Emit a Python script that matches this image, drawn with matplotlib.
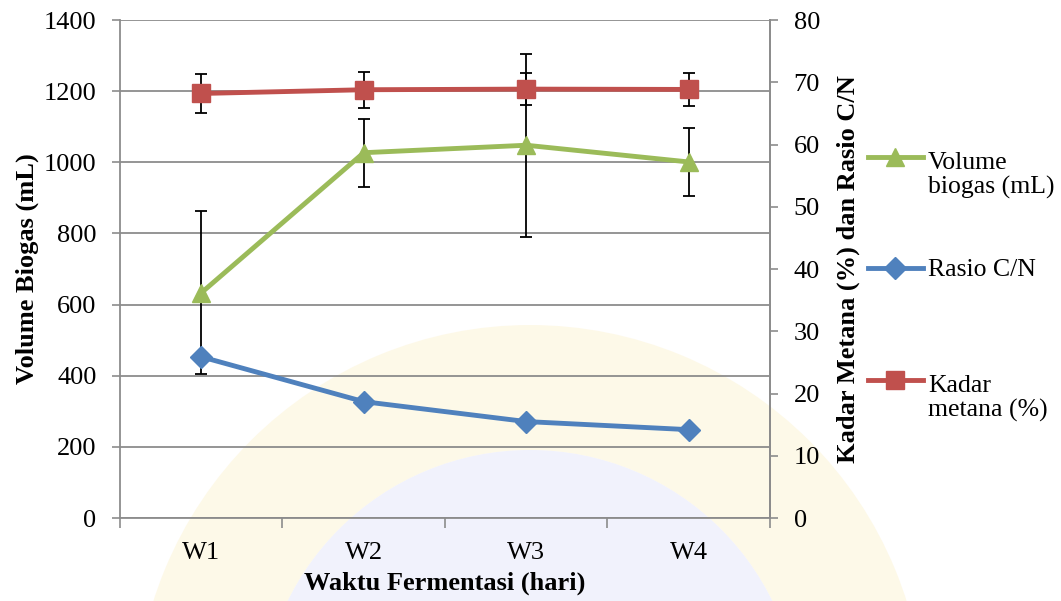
import numpy as np
import matplotlib
matplotlib.use("Agg")
import matplotlib.pyplot as plt
from matplotlib.lines import Line2D
from matplotlib.patches import Circle, Wedge

# Data
weeks = ["W1", "W2", "W3", "W4"]
volume_biogas = [633, 1027, 1048, 1001]      # mL (left axis)
volume_err = [229, 96, 257, 96]
rasio_cn = [25.9, 18.7, 15.5, 14.2]          # right axis
kadar_metana = [68.2, 68.8, 68.9, 68.85]     # % (right axis)
metana_err = [3.15, 2.9, 2.6, 2.65]

left_ticks = list(range(0, 1401, 200))
right_ticks = list(range(0, 81, 10))

plt.rcParams['font.family'] = ['Liberation Serif', 'DejaVu Serif']

GREEN = "#9BBB59"
BLUE = "#4F81BD"
RED = "#C0504D"
AXIS_GRAY = "#8C8C8C"

fig = plt.figure(figsize=(10.61, 6.01), dpi=100)
W, H = fig.get_size_inches() * fig.dpi

# Faint round emblem in the page background
cx, cy = 5.30, (H - 720) / 100.0
fig.add_artist(Wedge((cx, cy), 3.95, 0, 360, width=1.25, transform=fig.dpi_scale_trans,
                     facecolor="#FDF5DA", edgecolor="none", alpha=0.6, zorder=-10))
fig.add_artist(Circle((cx, cy), 2.70, transform=fig.dpi_scale_trans,
                      facecolor="#E8EAFB", edgecolor="none", alpha=0.6, zorder=-10))

ax = fig.add_axes([0.1131, 0.138, 0.6126, 0.8287])
ax.patch.set_alpha(0)
x = np.arange(len(weeks))

# Volume biogas on the primary axis
ax.errorbar(x, volume_biogas, yerr=volume_err, fmt='none', ecolor='black',
            elinewidth=1.3, capsize=4.5, capthick=1.3, zorder=2)
l_vol, = ax.plot(x, volume_biogas, color=GREEN, lw=3.5, marker='^', ms=13.5,
                 zorder=3, label="Volume\nbiogas (mL)")

ax.set_xlim(-0.5, len(weeks) - 0.5)
ax.set_ylim(0, 1400)
ax.set_yticks(left_ticks)
ax.yaxis.grid(True, color=AXIS_GRAY, lw=1.3)
ax.set_axisbelow(True)
ax.set_xticks(np.arange(-0.5, len(weeks), 1.0))
ax.set_xticklabels([])
ax.set_xticks(x, minor=True)
ax.set_xticklabels(weeks, minor=True)
ax.tick_params(axis='x', which='major', length=7, width=1.2, color=AXIS_GRAY, direction='out')
ax.tick_params(axis='x', which='minor', length=0, pad=17, labelsize=19)
ax.tick_params(axis='y', length=6, width=1.2, color=AXIS_GRAY, pad=11, labelsize=19)
for s in ['left', 'bottom', 'right']:
    ax.spines[s].set_color(AXIS_GRAY)
    ax.spines[s].set_linewidth(1.3)
ax.spines['top'].set_visible(False)

ax.set_xlabel("Waktu Fermentasi (hari)", fontsize=19, fontweight='bold', labelpad=6)
ax.set_ylabel("Volume Biogas (mL)", fontsize=19, fontweight='bold', labelpad=3)

# Rasio C/N and methane content on the secondary axis
ax2 = ax.twinx()
ax2.errorbar(x, kadar_metana, yerr=metana_err, fmt='none', ecolor='black',
             elinewidth=1.3, capsize=4.5, capthick=1.3, zorder=2)
l_cn, = ax2.plot(x, rasio_cn, color=BLUE, lw=3.5, marker='D', ms=11.5,
                 zorder=3, label="Rasio C/N")
l_ch4, = ax2.plot(x, kadar_metana, color=RED, lw=3.5, marker='s', ms=13.5,
                  zorder=3, label="Kadar\nmetana (%)")
ax2.set_ylim(0, 80)
ax2.set_yticks(right_ticks)
ax2.tick_params(axis='y', length=6, width=1.2, color=AXIS_GRAY, pad=11, labelsize=19)
for s in ['left', 'bottom', 'top']:
    ax2.spines[s].set_visible(False)
ax2.spines['right'].set_color(AXIS_GRAY)
ax2.spines['right'].set_linewidth(1.3)
ax2.set_ylabel("Kadar Metana (%) dan Rasio C/N", fontsize=19, fontweight='bold', labelpad=12)

# Legend to the right of the plot, marker line level with the first text line
legend_fs = 18.5
line_gap_px = 1.1 * legend_fs * fig.dpi / 72.0
rows = [(l_vol, 157), (l_cn, 268), (l_ch4, 380)]
for line, ypx in rows:
    yf = 1 - ypx / H
    xs = [868 / W, 895 / W, 923 / W]
    fig.add_artist(Line2D(xs, [yf] * 3, transform=fig.transFigure,
                          color=line.get_color(), lw=line.get_linewidth(),
                          marker=line.get_marker(), ms=line.get_markersize(),
                          markevery=[1]))
    n_lines = line.get_label().count("\n") + 1
    base_px = ypx + 8.5 + line_gap_px * (n_lines - 1)
    fig.text(928 / W, 1 - base_px / H, line.get_label(), fontsize=legend_fs,
             va='baseline', ha='left', linespacing=1.1)

fig.savefig("out.png", dpi=100)
